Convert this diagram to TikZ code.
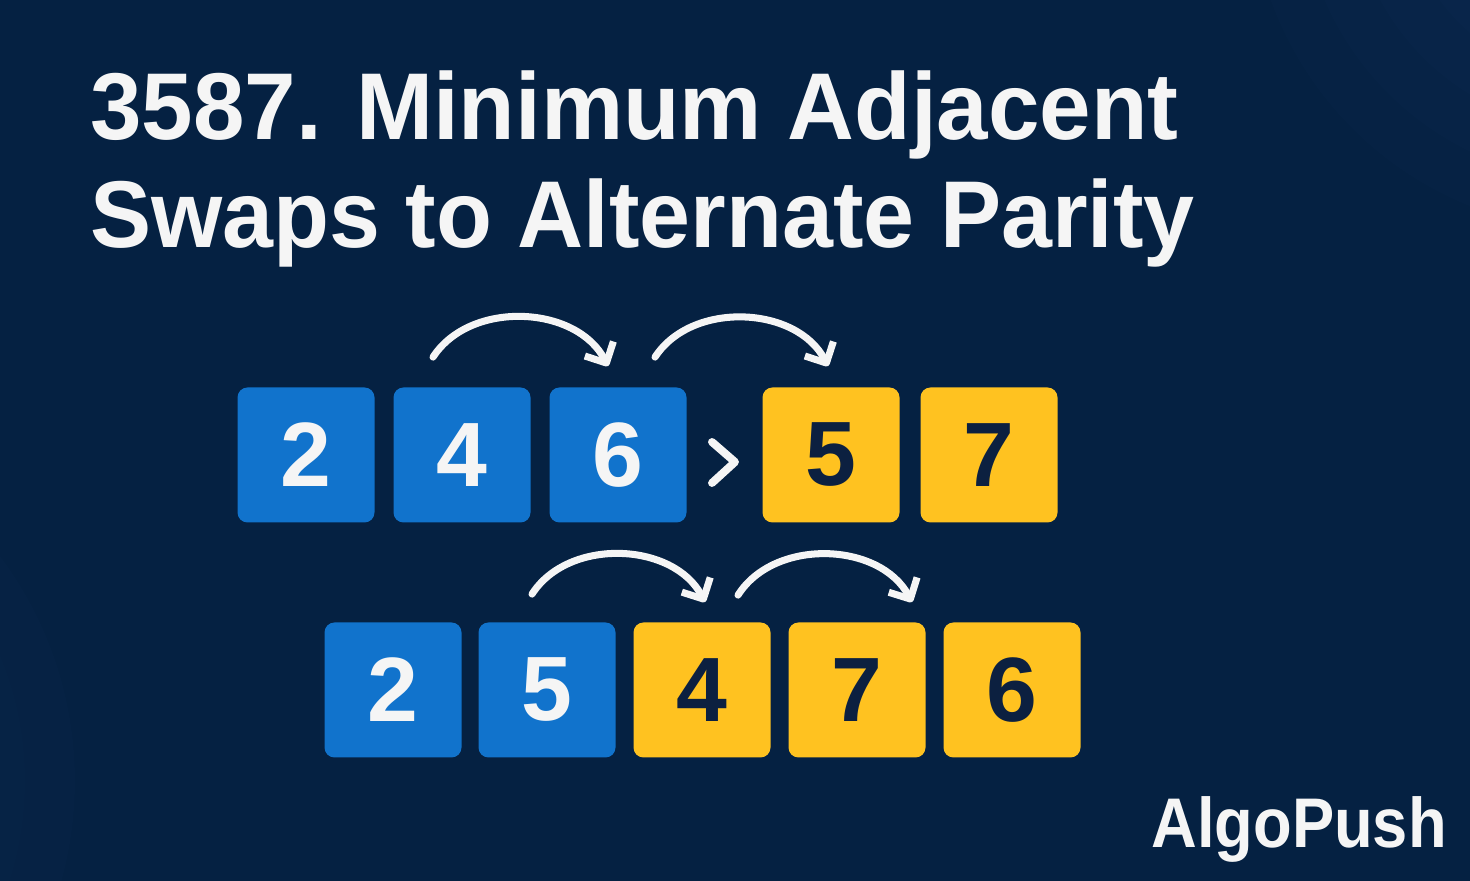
\documentclass[tikz,border=0pt]{standalone}
\usepackage{fontspec}
\setmainfont{Liberation Sans}
\usetikzlibrary{arrows.meta}
\definecolor{navy}{RGB}{5, 33, 66}
\definecolor{navylight}{RGB}{22, 58, 100}
\definecolor{evenblue}{RGB}{17, 115, 204}
\definecolor{oddyellow}{RGB}{255, 194, 32}
\definecolor{darkdigit}{RGB}{12, 32, 64}
\definecolor{offwhite}{RGB}{245, 245, 245}

\begin{document}
\begin{tikzpicture}[
        box/.style={rounded corners=0.2cm, minimum width=2.74cm, minimum height=2.7cm, inner sep=0pt, font=\fontsize{52}{52}\selectfont\bfseries},
        evenbox/.style={box, fill=evenblue, text=offwhite},
        oddbox/.style={box, fill=oddyellow, text=darkdigit},
        swaparrow/.style={draw=offwhite, line width=4pt, line cap=round, -{Straight Barb[length=0.32cm, width=0.64cm, line join=round]}, bend left=60},
        title/.style={anchor=base west, text=offwhite, inner sep=0pt, font=\fontsize{54}{54}\selectfont\bfseries}
      ]
        % background
        \fill[navy] (0,0) rectangle (29.4,17.62);
        \begin{scope}
          \clip (0,0) rectangle (29.4,17.62);
          \foreach \r in {7,6,5,4} {
            \fill[navylight, opacity=0.08] (32,20) circle (\r cm);
          }
          \foreach \r in {7.5,6.5,5.5} {
            \fill[navylight, opacity=0.06] (-6,2) circle (\r cm);
          }
        \end{scope}
        \useasboundingbox (0,0) rectangle (29.4,17.62);

        % title
        \node[title] (line1) at (1.8,14.82) {\scalebox{0.975}[1]{3587. Minimum Adjacent}};
        \node[title] (line2) at (1.8,12.66) {\scalebox{0.965}[1]{Swaps to Alternate Parity}};

        % first row
        \node[evenbox] (a1) at (6.12,8.52) {2};
        \node[evenbox] (a2) at (9.24,8.52) {4};
        \node[evenbox] (a3) at (12.36,8.52) {6};
        \node[oddbox] (a4) at (16.62,8.52) {5};
        \node[oddbox] (a5) at (19.78,8.52) {7};
        \coordinate (sep) at (14.46,8.38);
        \draw[offwhite, line width=4.5pt, line cap=round, line join=round]
          ([shift={(-0.22,0.4)}]sep) -- ([shift={(0.24,0)}]sep) -- ([shift={(-0.22,-0.42)}]sep);

        \draw[swaparrow] ([shift={(-0.58,0.6)}]a2.north) to ([shift={(-0.2,0.42)}]a3.north);
        \draw[swaparrow] ([shift={(0.74,0.6)}]a3.north) to ([shift={(-0.06,0.42)}]a4.north);

        % second row
        \node[evenbox] (b1) at (7.86,3.82) {2};
        \node[evenbox] (b2) at (10.94,3.82) {5};
        \node[oddbox] (b3) at (14.04,3.82) {4};
        \node[oddbox] (b4) at (17.14,3.82) {7};
        \node[oddbox] (b5) at (20.24,3.82) {6};

        \draw[swaparrow] ([shift={(-0.3,0.56)}]b2.north) to ([shift={(0.06,0.4)}]b3.north);
        \draw[swaparrow] ([shift={(0.72,0.54)}]b3.north) to ([shift={(1.1,0.4)}]b4.north);

        % brand
        \node[anchor=base east, text=offwhite, inner sep=0pt, font=\fontsize{40}{40}\selectfont\bfseries] (brand) at (28.94,0.66) {\scalebox{0.9}[1]{AlgoPush}};
      \end{tikzpicture}
\end{document}
